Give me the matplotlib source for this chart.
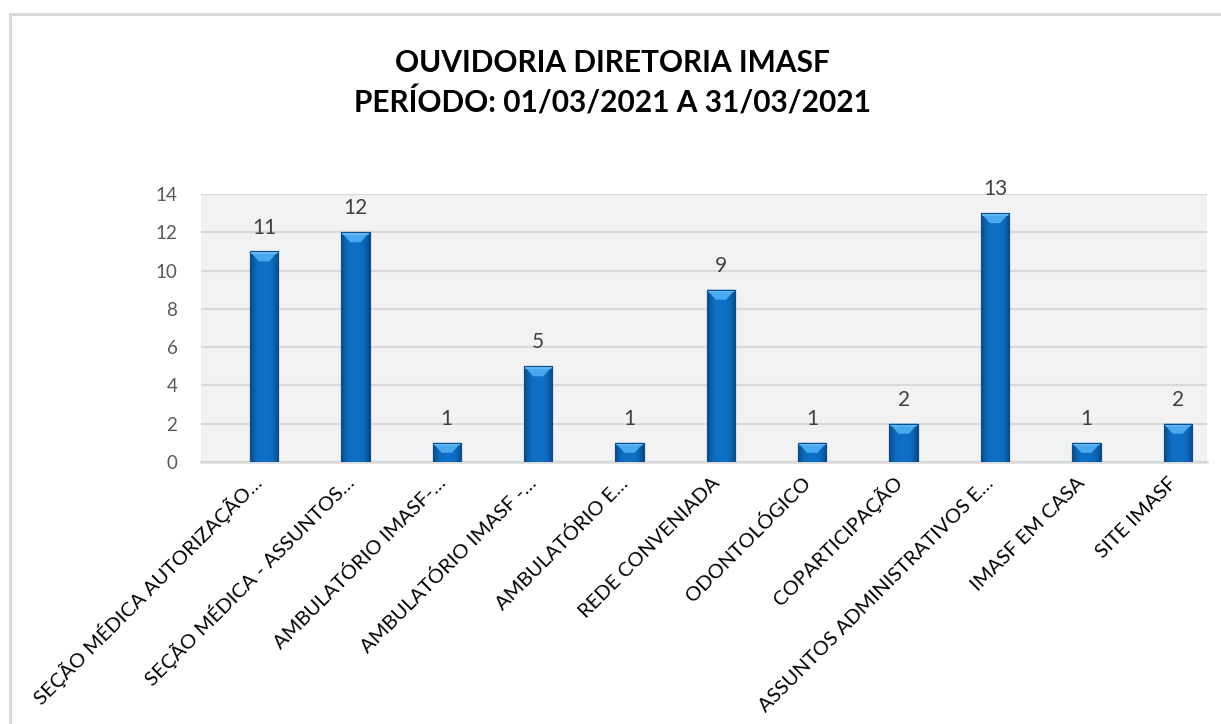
import numpy as np
import matplotlib
matplotlib.use("Agg")
import matplotlib.pyplot as plt
from matplotlib.patches import Polygon
from matplotlib.lines import Line2D
from matplotlib.colors import LinearSegmentedColormap

plt.rcParams['font.family'] = ['Lato', 'DejaVu Sans']

title = "OUVIDORIA DIRETORIA IMASF\nPERÍODO: 01/03/2021 A 31/03/2021"
categories = [
    "SEÇÃO MÉDICA AUTORIZAÇÃO…",
    "SEÇÃO MÉDICA - ASSUNTOS…",
    "AMBULATÓRIO IMASF-…",
    "AMBULATÓRIO IMASF -…",
    "AMBULATÓRIO E…",
    "REDE CONVENIADA",
    "ODONTOLÓGICO",
    "COPARTICIPAÇÃO",
    "ASSUNTOS ADMINISTRATIVOS E…",
    "IMASF EM CASA",
    "SITE IMASF",
]
values = [11, 12, 1, 5, 1, 9, 1, 2, 13, 1, 2]
yticks = [0, 2, 4, 6, 8, 10, 12, 14]

W, H = 1221, 724
fig = plt.figure(figsize=(W / 100, H / 100), dpi=100)
fig.patch.set_facecolor('white')

# chart border (top and left visible)
fig.add_artist(Line2D([10 / W, 10 / W], [0, 1 - 14 / H], transform=fig.transFigure,
                      color='#D9D9D9', lw=2.2))
fig.add_artist(Line2D([10 / W, 1], [1 - 14 / H, 1 - 14 / H], transform=fig.transFigure,
                      color='#D9D9D9', lw=2.2))

ax_left, ax_right, ax_top, ax_bot = 201, 1207, 194, 462
ax = fig.add_axes([ax_left / W, 1 - ax_bot / H, (ax_right - ax_left) / W, (ax_bot - ax_top) / H])
ax.set_facecolor('#F2F2F2')

x = np.arange(len(categories))
bw = 0.31
bars = ax.bar(x, values, width=bw, color='#0C6BC0', edgecolor='#0A4D8C', linewidth=0.8, zorder=3)

ax.set_xlim(-0.69, 10.32)
ax.set_ylim(0, 14)
ax.set_yticks(yticks)
ax.yaxis.grid(True, color='#D9D9D9', lw=1.6, zorder=0)
ax.set_axisbelow(True)
for s in ['top', 'right', 'left']:
    ax.spines[s].set_visible(False)
ax.spines['bottom'].set_color('#D9D9D9')
ax.spines['bottom'].set_linewidth(1.8)
ax.tick_params(axis='y', length=0, pad=17, labelsize=13.5, labelcolor='#595959')
ax.tick_params(axis='x', length=0, pad=16)
ax.set_xticks(x)
ax.set_xticklabels(categories, rotation=45, ha='right', va='baseline', rotation_mode='anchor',
                   fontsize=14.5, color='#000000')

# bar shading: horizontal gradient + top bevel, derived from each bar's rectangle
grad = np.linspace(0, 1, 64)
shade = 1 - 0.55 * (np.abs(grad - 0.5) * 2) ** 3
cmap = LinearSegmentedColormap.from_list('bb', ['#07467F', '#0E70C6'])
px_per_unit = (ax_bot - ax_top) / 14.0
bevel_h = 10 / px_per_unit
for rect in bars:
    x0, y0 = rect.get_x(), rect.get_y()
    w, h = rect.get_width(), rect.get_height()
    im = ax.imshow(shade[np.newaxis, :], extent=[x0, x0 + w, y0, y0 + h], aspect='auto',
                   cmap=cmap, vmin=0.45, vmax=1.0, zorder=3.5, interpolation='bicubic')
    im.set_clip_path(rect)
    top = y0 + h
    bh = min(bevel_h, h * 0.55)
    inset = w * 0.32
    ax.add_patch(Polygon([[x0, top], [x0 + w, top], [x0 + w - inset, top - bh], [x0 + inset, top - bh]],
                         closed=True, facecolor='#48A8F0', edgecolor='none', zorder=4))
    ax.add_patch(Polygon([[x0, top], [x0 + w, top], [x0 + w - 0.04 * w, top - bh * 0.25], [x0 + 0.04 * w, top - bh * 0.25]],
                         closed=True, facecolor='#6DBDF6', edgecolor='none', zorder=4.1))
    ax.bar(x0 + w / 2, h, width=w, bottom=y0, fill=False, edgecolor='#0A4D8C', linewidth=0.8, zorder=4.2)

for xi, v in zip(x, values):
    ax.annotate(str(v), (xi, v), xytext=(0, 10), textcoords='offset points', ha='center', va='bottom',
                fontsize=15, color='#404040', zorder=5)

fig.text(612 / W, 1 - 83 / H, title, ha='center', va='center', fontsize=21.5, fontweight='bold',
         color='#000000', linespacing=1.42)

fig.savefig('out.png', dpi=100)
